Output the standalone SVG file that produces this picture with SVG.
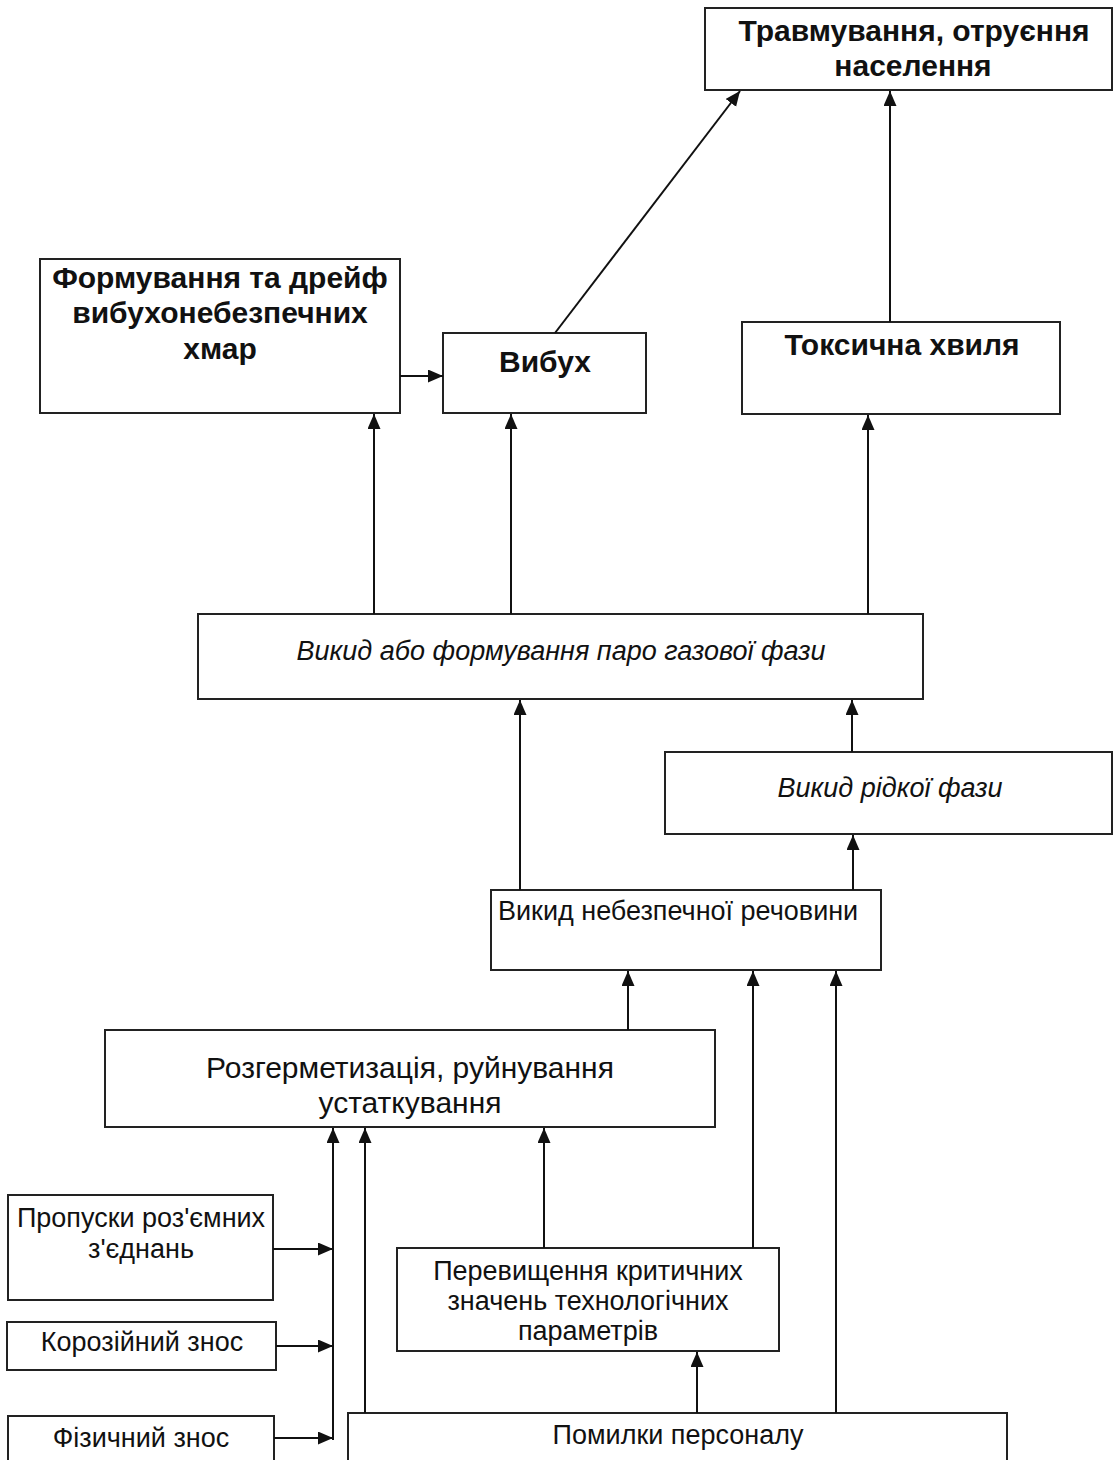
<svg xmlns="http://www.w3.org/2000/svg" width="1114" height="1460" viewBox="0 0 1114 1460">
<defs>
<marker id="ah" markerUnits="userSpaceOnUse" markerWidth="15" markerHeight="14" viewBox="0 0 15 14" refX="15" refY="6.5" orient="auto">
<path d="M0,0 L15,6.5 L0,13 Z" fill="#111"/>
</marker>
<style>
.box{fill:#fff;stroke:#222;stroke-width:2}
.t{font-family:"Liberation Sans",Arial,sans-serif;font-size:27px;fill:#111;text-anchor:middle}
.b{font-weight:bold;font-size:30px}
.i{font-style:italic}
.l{font-size:30px}
.c line{stroke:#111;stroke-width:2;marker-end:url(#ah)}
</style>
</defs>
<rect width="1114" height="1460" fill="#fff"/>

<g id="n-travm">
<rect class="box" x="705" y="8" width="407" height="82"/>
<text class="t b" x="914" y="41">Травмування, отруєння</text>
<text class="t b" x="913" y="76">населення</text>
</g>
<g id="n-form">
<rect class="box" x="40" y="259" width="360" height="154"/>
<text class="t b" x="220" y="288">Формування та дрейф</text>
<text class="t b" x="220" y="323">вибухонебезпечних</text>
<text class="t b" x="220" y="359">хмар</text>
</g>
<g id="n-vybukh">
<rect class="box" x="443" y="333" width="203" height="80"/>
<text class="t b" x="545" y="372">Вибух</text>
</g>
<g id="n-toks">
<rect class="box" x="742" y="322" width="318" height="92"/>
<text class="t b" x="902" y="355">Токсична хвиля</text>
</g>
<g id="n-paro">
<rect class="box" x="198" y="614" width="725" height="85"/>
<text class="t i" x="561" y="660">Викид або формування паро газової фази</text>
</g>
<g id="n-ridka">
<rect class="box" x="665" y="752" width="447" height="82"/>
<text class="t i" x="890" y="797">Викид рідкої фази</text>
</g>
<g id="n-nebezp">
<rect class="box" x="491" y="890" width="390" height="80"/>
<text class="t" x="498" y="920" style="text-anchor:start">Викид небезпечної речовини</text>
</g>
<g id="n-rozg">
<rect class="box" x="105" y="1030" width="610" height="97"/>
<text class="t l" x="410" y="1078">Розгерметизація, руйнування</text>
<text class="t l" x="410" y="1113">устаткування</text>
</g>
<g id="n-propusky">
<rect class="box" x="8" y="1195" width="265" height="105"/>
<text class="t" x="141" y="1227">Пропуски роз'ємних</text>
<text class="t" x="141" y="1258">з'єднань</text>
</g>
<g id="n-koroz">
<rect class="box" x="7" y="1322" width="269" height="48"/>
<text class="t" x="142" y="1351">Корозійний знос</text>
</g>
<g id="n-fiz">
<rect class="box" x="8" y="1416" width="266" height="50"/>
<text class="t" x="141" y="1447">Фізичний знос</text>
</g>
<g id="n-perev">
<rect class="box" x="397" y="1248" width="382" height="103"/>
<text class="t" x="588" y="1280">Перевищення критичних</text>
<text class="t" x="588" y="1310">значень технологічних</text>
<text class="t" x="588" y="1340">параметрів</text>
</g>
<g id="n-pomylky">
<rect class="box" x="348" y="1413" width="659" height="55"/>
<text class="t" x="678" y="1444">Помилки персоналу</text>
</g>

<g id="connectors" class="c">
<line x1="555" y1="333" x2="740" y2="91"/>
<line x1="890" y1="322" x2="890" y2="91"/>
<line x1="400" y1="376" x2="443" y2="376"/>
<line x1="374" y1="614" x2="374" y2="414"/>
<line x1="511" y1="614" x2="511" y2="414"/>
<line x1="868" y1="614" x2="868" y2="415"/>
<line x1="520" y1="890" x2="520" y2="700"/>
<line x1="852" y1="752" x2="852" y2="700"/>
<line x1="853" y1="890" x2="853" y2="835"/>
<line x1="628" y1="1030" x2="628" y2="971"/>
<line x1="753" y1="1248" x2="753" y2="971"/>
<line x1="836" y1="1413" x2="836" y2="971"/>
<line x1="544" y1="1248" x2="544" y2="1128"/>
<line x1="697" y1="1413" x2="697" y2="1352"/>
<line x1="365" y1="1413" x2="365" y2="1128"/>
<line x1="333" y1="1440" x2="333" y2="1128"/>
<line x1="273" y1="1249" x2="333" y2="1249"/>
<line x1="276" y1="1346" x2="333" y2="1346"/>
<line x1="274" y1="1438" x2="333" y2="1438"/>
</g>
</svg>
